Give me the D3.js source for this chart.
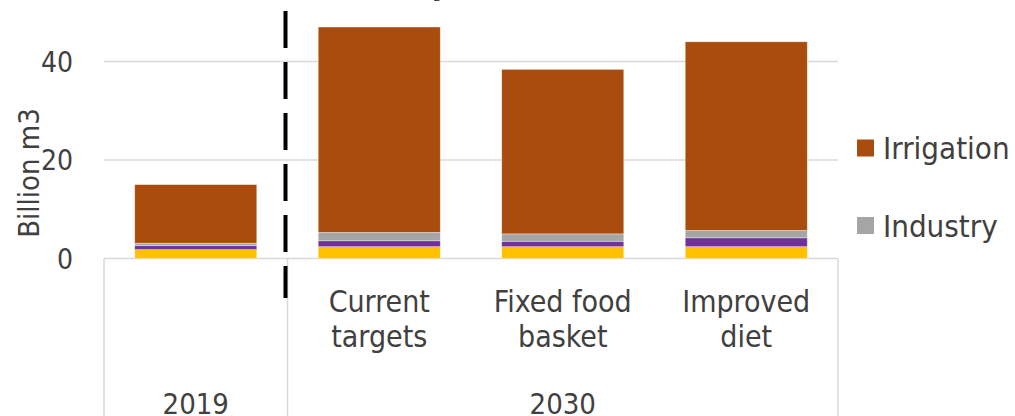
<!DOCTYPE html>
<html>
<head>
<meta charset="utf-8">
<script src="https://cdn.jsdelivr.net/npm/d3@7"></script>
<style>
  body { margin: 0; background: #fff; }
  svg { display: block; }
  text { font-family: "DejaVu Sans Condensed", "Liberation Sans Narrow", "DejaVu Sans", sans-serif; fill: #404040; }
</style>
</head>
<body>
<script>
// data
var categories = ["", "Current targets", "Fixed food basket", "Improved diet"];
var groupLabels = ["2019", "2030"];
var groupOf = [0, 1, 1, 1];
var seriesNames = ["Municipal", "Livestock", "Industry", "Irrigation"];
var municipal = [1.8, 2.4, 2.4, 2.4];
var livestock = [0.8, 1.2, 1.1, 1.8];
var industry = [0.5, 1.7, 1.5, 1.5];
var irrigation = [11.9, 41.7, 33.4, 38.3];
var yTicks = [0, 20, 40, 60];
var legendNames = ["Irrigation", "Industry"];

var colors = {
  Municipal: "#FFC000",
  Livestock: "#7030A0",
  Industry: "#A5A5A5",
  Irrigation: "#A94C0E"
};

var W = 1015, H = 416;
var svg = d3.select("body").append("svg").attr("width", W).attr("height", H);

var x = d3.scaleBand()
  .domain(d3.range(categories.length))
  .range([104, 838])
  .paddingInner(0.335)
  .paddingOuter(0.1675);

var y = d3.scaleLinear().domain([0, 60]).range([258.5, -37]);

// title (cropped above the picture, as in the source: only descenders show)
var title = svg.append("text")
  .attr("y", -5)
  .style("font-size", "30px")
  .style("font-weight", "bold");
title.append("tspan").attr("x", 449).attr("text-anchor", "end").text("Water withdrawal by");
title.append("tspan").attr("x", 535).attr("text-anchor", "middle").text("sector");
title.append("tspan").attr("x", 624).attr("text-anchor", "start").text("(2030)");

// gridlines
svg.append("g")
  .selectAll("line")
  .data(yTicks)
  .enter()
  .append("line")
  .attr("x1", 104)
  .attr("x2", 838)
  .attr("y1", (d) => y(d))
  .attr("y2", (d) => y(d))
  .attr("stroke", "#d9d9d9")
  .attr("stroke-width", 1.5);

// tick labels
svg.append("g")
  .selectAll("text")
  .data(yTicks)
  .enter()
  .append("text")
  .attr("x", 73)
  .attr("y", (d) => y(d))
  .attr("dy", "0.36em")
  .attr("text-anchor", "end")
  .style("font-size", "28px")
  .text((d) => d);

// y title
svg.append("text")
  .attr("transform", "translate(39,173) rotate(-90)")
  .attr("text-anchor", "middle")
  .style("font-size", "29px")
  .text("Billion m3");

// stacked bars
var table = categories.map((c, i) => ({
  Municipal: municipal[i],
  Livestock: livestock[i],
  Industry: industry[i],
  Irrigation: irrigation[i],
  idx: i
}));
var stack = d3.stack().keys(seriesNames)(table);

svg.append("g")
  .selectAll("g")
  .data(stack)
  .enter()
  .append("g")
  .attr("fill", (s) => colors[s.key])
  .selectAll("rect")
  .data((s) => s)
  .enter()
  .append("rect")
  .attr("x", (d) => x(d.data.idx))
  .attr("width", x.bandwidth())
  .attr("y", (d) => y(d[1]))
  .attr("height", (d) => y(d[0]) - y(d[1]))
  .attr("stroke", "#fff")
  .attr("stroke-width", 0.7)
  .attr("stroke-opacity", 0.5);

// category axis: separators
var bounds = [0, 1, 4].map((i) => 104 + x.step() * i);
svg.append("g")
  .selectAll("line")
  .data(bounds)
  .enter()
  .append("line")
  .attr("x1", (d) => d)
  .attr("x2", (d) => d)
  .attr("y1", y(0))
  .attr("y2", H)
  .attr("stroke", "#d9d9d9")
  .attr("stroke-width", 1.5);

// category labels (two lines)
var catG = svg.append("g")
  .selectAll("text")
  .data(categories)
  .enter()
  .append("text")
  .attr("text-anchor", "middle")
  .style("font-size", "30px");
catG.each(function (d, i) {
  var words = d.split(" ");
  var lines = words.length > 2 ? [words.slice(0, 2).join(" "), words[2]] : words.length === 2 ? words : [d];
  var cx = x(i) + x.bandwidth() / 2;
  d3.select(this)
    .selectAll("tspan")
    .data(lines)
    .enter()
    .append("tspan")
    .attr("x", cx)
    .attr("y", (_, k) => 312 + k * 35)
    .text((t) => t);
});

// group labels
svg.append("g")
  .selectAll("text")
  .data(groupLabels)
  .enter()
  .append("text")
  .attr("x", (g, gi) => {
    var idx = groupOf.map((v, i) => (v === gi ? i : -1)).filter((i) => i >= 0);
    return (x(idx[0]) - x.step() * x.paddingInner() / 2 + x(idx[idx.length - 1]) + x.bandwidth() + x.step() * x.paddingInner() / 2) / 2;
  })
  .attr("y", 414)
  .attr("text-anchor", "middle")
  .style("font-size", "29px")
  .text((d) => d);

// dashed divider between 2019 and 2030
svg.append("line")
  .attr("x1", bounds[1] - 2)
  .attr("x2", bounds[1] - 2)
  .attr("y1", 11)
  .attr("y2", 298)
  .attr("stroke", "#000")
  .attr("stroke-width", 4)
  .attr("stroke-dasharray", "37,14");

// legend
var leg = svg.append("g")
  .selectAll("g")
  .data(legendNames)
  .enter()
  .append("g")
  .attr("transform", (_, i) => `translate(857,${139.5 + i * 77.5})`);
leg.append("rect")
  .attr("width", 17)
  .attr("height", 17)
  .attr("fill", (d) => colors[d]);
leg.append("text")
  .attr("x", 26)
  .attr("y", 8.5)
  .attr("dy", "0.36em")
  .style("font-size", "31px")
  .text((d) => d);
</script>
</body>
</html>
